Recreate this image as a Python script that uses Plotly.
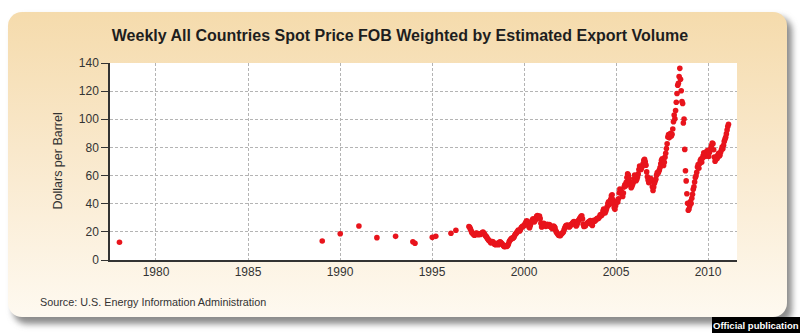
import base64
import pandas as pd
import plotly.graph_objects as go

# ---------------- data ----------------
TITLE = "Weekly All Countries Spot Price FOB Weighted by Estimated Export Volume"
Y_TITLE = "Dollars per Barrel"
SOURCE = "Source: U.S. Energy Information Administration"
BADGE = "Official publication"

# sparse early observations
early_dates = ["1978-01-06", "1989-01-13", "1990-01-05", "1991-01-11", "1992-01-03",
               "1993-01-08", "1993-12-17", "1994-01-28", "1995-01-06", "1995-03-17",
               "1996-01-12", "1996-04-19"]
early_values = [12.6, 13.5, 18.7, 24.2, 15.9, 16.8, 13.0, 11.9, 16.1, 16.8, 19.0, 21.1]

# continuous series (every two weeks) starting 1997-01-03
series_start = "1997-01-03"
v1997 = [23.8, 23.2, 22.1, 20.9, 19.6, 19.2, 18.4, 18.0, 17.6, 18.3, 18.9, 19.2, 18.3,
         17.9, 18.4, 18.7, 18.2, 18.6, 18.9, 19.5, 19.8, 19.0, 18.4, 17.6, 16.9, 16.4]
v1998 = [15.4, 14.7, 14.1, 13.6, 13.0, 12.2, 12.6, 13.1, 12.9, 12.3, 11.4, 11.0, 10.8,
         11.6, 11.9, 11.2, 10.9, 12.4, 13.0, 12.6, 11.9, 11.5, 10.8, 10.1, 9.6, 9.4]
v1999 = [9.8, 10.2, 9.7, 10.3, 11.4, 12.9, 13.8, 14.6, 15.1, 15.6, 15.2, 15.9, 16.4,
         17.6, 18.4, 19.0, 19.6, 20.4, 21.3, 21.0, 20.6, 21.7, 22.8, 23.4, 23.9, 24.2]
v2000 = [24.3, 25.2, 26.0, 27.1, 27.8, 27.2, 25.4, 23.6, 22.9, 24.6, 26.1, 27.4, 28.6,
         29.2, 27.8, 27.1, 28.3, 29.5, 31.0, 31.6, 30.2, 30.8, 31.2, 29.4, 26.2, 23.4]
v2001 = [23.8, 25.1, 26.0, 25.4, 24.6, 23.9, 24.5, 25.3, 24.8, 24.1, 25.2, 24.6, 23.7,
         23.1, 22.4, 23.2, 24.1, 23.6, 22.8, 20.9, 19.8, 19.2, 18.4, 17.6, 17.9, 17.3]
v2002 = [17.6, 18.4, 19.0, 19.4, 20.1, 21.6, 22.8, 23.9, 24.6, 24.1, 24.9, 24.2, 23.4,
         23.8, 24.7, 25.3, 25.6, 26.2, 26.9, 27.3, 26.8, 25.1, 24.2, 24.9, 26.3, 27.8]
v2003 = [28.6, 29.4, 30.2, 31.0, 31.4, 29.2, 25.4, 23.8, 24.3, 24.1, 25.2, 25.9, 26.3,
         26.8, 27.2, 27.4, 28.1, 27.3, 25.1, 24.6, 27.0, 28.2, 27.6, 27.9, 28.6, 29.1]
v2004 = [29.7, 29.3, 29.8, 30.6, 31.9, 32.3, 31.7, 32.6, 34.8, 36.2, 35.1, 33.4, 34.6,
         36.3, 37.8, 40.1, 41.3, 39.2, 40.6, 43.1, 45.6, 46.4, 43.0, 40.2, 37.1, 36.0]
v2005 = [38.6, 40.8, 41.7, 41.2, 43.5, 47.8, 50.4, 49.2, 48.7, 46.3, 45.2, 47.6, 51.8,
         53.4, 52.6, 55.3, 58.6, 61.2, 60.4, 58.1, 55.4, 53.2, 51.4, 52.3, 53.6, 55.0]
v2006 = [57.6, 60.4, 58.8, 56.3, 57.4, 58.9, 61.2, 64.3, 66.8, 65.9, 64.4, 65.7, 66.9,
         68.6, 70.8, 71.6, 69.8, 67.4, 62.6, 59.2, 56.8, 54.9, 55.6, 56.8, 57.9, 56.4]
v2007 = [52.1, 49.4, 51.8, 54.6, 56.2, 57.4, 60.3, 62.1, 61.6, 62.8, 63.9, 65.7, 68.4,
         70.8, 71.9, 68.6, 67.2, 69.4, 73.1, 75.8, 79.2, 82.6, 87.4, 89.2, 86.8, 88.4]
v2008 = [90.0, 88.2, 89.4, 93.1, 98.2, 103.0, 100.4, 106.2, 112.1, 118.3, 124.2, 125.6,
         130.4, 136.2, 128.4, 120.3, 112.6, 111.2, 97.4, 100.2, 78.6, 63.4, 56.2, 47.1,
         40.3, 35.4]
v2009 = [36.2, 38.4, 41.6, 40.2, 43.8, 46.7, 50.3, 52.1, 55.4, 58.6, 59.8, 62.4, 66.1,
         67.8, 65.2, 68.4, 70.6, 71.8, 69.4, 72.3, 74.1, 76.2, 75.4, 73.6, 75.8, 76.9]
v2010 = [77.8, 75.2, 73.6, 76.4, 78.2, 79.6, 81.4, 83.2, 82.6, 78.4, 73.1, 70.2, 71.8,
         73.4, 72.1, 74.6, 75.8, 73.9, 74.6, 76.8, 78.4, 80.2, 79.1, 81.6, 84.3, 85.8]
v2011 = [87.2, 89.6, 92.4, 94.8, 96.4]

series_values = (v1997 + v1998 + v1999 + v2000 + v2001 + v2002 + v2003 + v2004 +
                 v2005 + v2006 + v2007 + v2008 + v2009 + v2010 + v2011)

x_tick_years = [1980, 1985, 1990, 1995, 2000, 2005, 2010]
y_ticks = [0, 20, 40, 60, 80, 100, 120, 140]

# ---------------- layout geometry ----------------
W, H = 800, 333
L, R, T, B = 110, 63, 63, 73
PW, PH = W - L - R, H - T - B


def px(x):
    return (x - L) / PW


def py(y):
    return (H - B - y) / PH


series_dates = pd.date_range(series_start, periods=len(series_values), freq="14D")
dates = list(pd.to_datetime(early_dates)) + list(series_dates)
values = early_values + series_values

RED = "#e8141c"
TXT = "#333333"
FONT = "Liberation Sans, Arial, sans-serif"

fig = go.Figure()
fig.add_trace(go.Scatter(
    x=dates, y=values, mode="markers",
    marker=dict(color=RED, size=5.6, line=dict(width=0)),
    hoverinfo="x+y", showlegend=False,
))

# background frame (gradient + shadow) as an inline svg image
svg = f"""<svg xmlns='http://www.w3.org/2000/svg' width='{W}' height='{H}' viewBox='0 0 {W} {H}'>
<defs>
<linearGradient id='g' x1='0' y1='0' x2='0' y2='1'>
<stop offset='0' stop-color='#f5dbac'/>
<stop offset='0.45' stop-color='#f9e8cb'/>
<stop offset='1' stop-color='#fef9f0'/>
</linearGradient>
<filter id='s' x='-5%' y='-10%' width='110%' height='130%'><feGaussianBlur stdDeviation='3'/></filter>
</defs>
<rect x='13' y='17' width='779' height='307' rx='14' fill='#8c8c8c' filter='url(#s)'/>
<rect x='8' y='12' width='779' height='305' rx='14' fill='url(#g)'/>
</svg>"""
src = "data:image/svg+xml;base64," + base64.b64encode(svg.encode()).decode()

fig.update_layout(
    width=W, height=H,
    margin=dict(l=L, r=R, t=T, b=B, pad=0),
    paper_bgcolor="white",
    plot_bgcolor="rgba(0,0,0,0)",
    font=dict(family=FONT, size=12, color=TXT),
    title=dict(text=f"<b>{TITLE}</b>", x=0.5, xref="container", xanchor="center",
               y=1 - 35 / H, yref="container", yanchor="middle",
               font=dict(family=FONT, size=16, color="#1e1e1e")),
    images=[dict(source=src, xref="paper", yref="paper", x=px(0), y=py(0),
                 sizex=W / PW, sizey=H / PH, xanchor="left", yanchor="top",
                 sizing="stretch", layer="below")],
    shapes=[
        dict(type="rect", xref="paper", yref="paper", x0=0, x1=1, y0=0, y1=1,
             fillcolor="white", line=dict(width=0), layer="below"),
        dict(type="rect", xref="paper", yref="paper", x0=px(712), x1=px(800),
             y0=py(317), y1=py(333), fillcolor="black", line=dict(width=0)),
    ],
    annotations=[
        dict(text=Y_TITLE, textangle=-90, xref="paper", yref="paper",
             x=px(57), y=py(161.5), xanchor="center", yanchor="middle",
             showarrow=False, font=dict(size=12.5, color=TXT)),
        dict(text=SOURCE, xref="paper", yref="paper", x=px(38), y=py(302),
             xanchor="left", yanchor="middle", showarrow=False,
             font=dict(size=10.8, color=TXT)),
        dict(text=f"<b>{BADGE}</b>", xref="paper", yref="paper", x=px(756),
             y=py(325), xanchor="center", yanchor="middle", showarrow=False,
             font=dict(size=9.5, color="white")),
    ],
)

fig.update_xaxes(
    type="date", range=["1977-07-02", "2011-07-30"],
    tickvals=[f"{y}-01-01" for y in x_tick_years],
    ticktext=[str(y) for y in x_tick_years],
    showgrid=True, gridcolor="#b4b4b4", griddash="3px,2px", gridwidth=1,
    showline=True, linecolor="#333333", linewidth=1.5,
    ticks="", zeroline=False, tickfont=dict(size=12, color=TXT),
)
fig.update_yaxes(
    range=[0, 140], tickvals=y_ticks,
    showgrid=True, gridcolor="#b4b4b4", griddash="3px,2px", gridwidth=1,
    showline=True, linecolor="#333333", linewidth=1.5,
    ticks="outside", ticklen=7, tickcolor="#333333", tickwidth=1,
    zeroline=False, tickfont=dict(size=12, color=TXT),
)

fig.write_html("out.html")
